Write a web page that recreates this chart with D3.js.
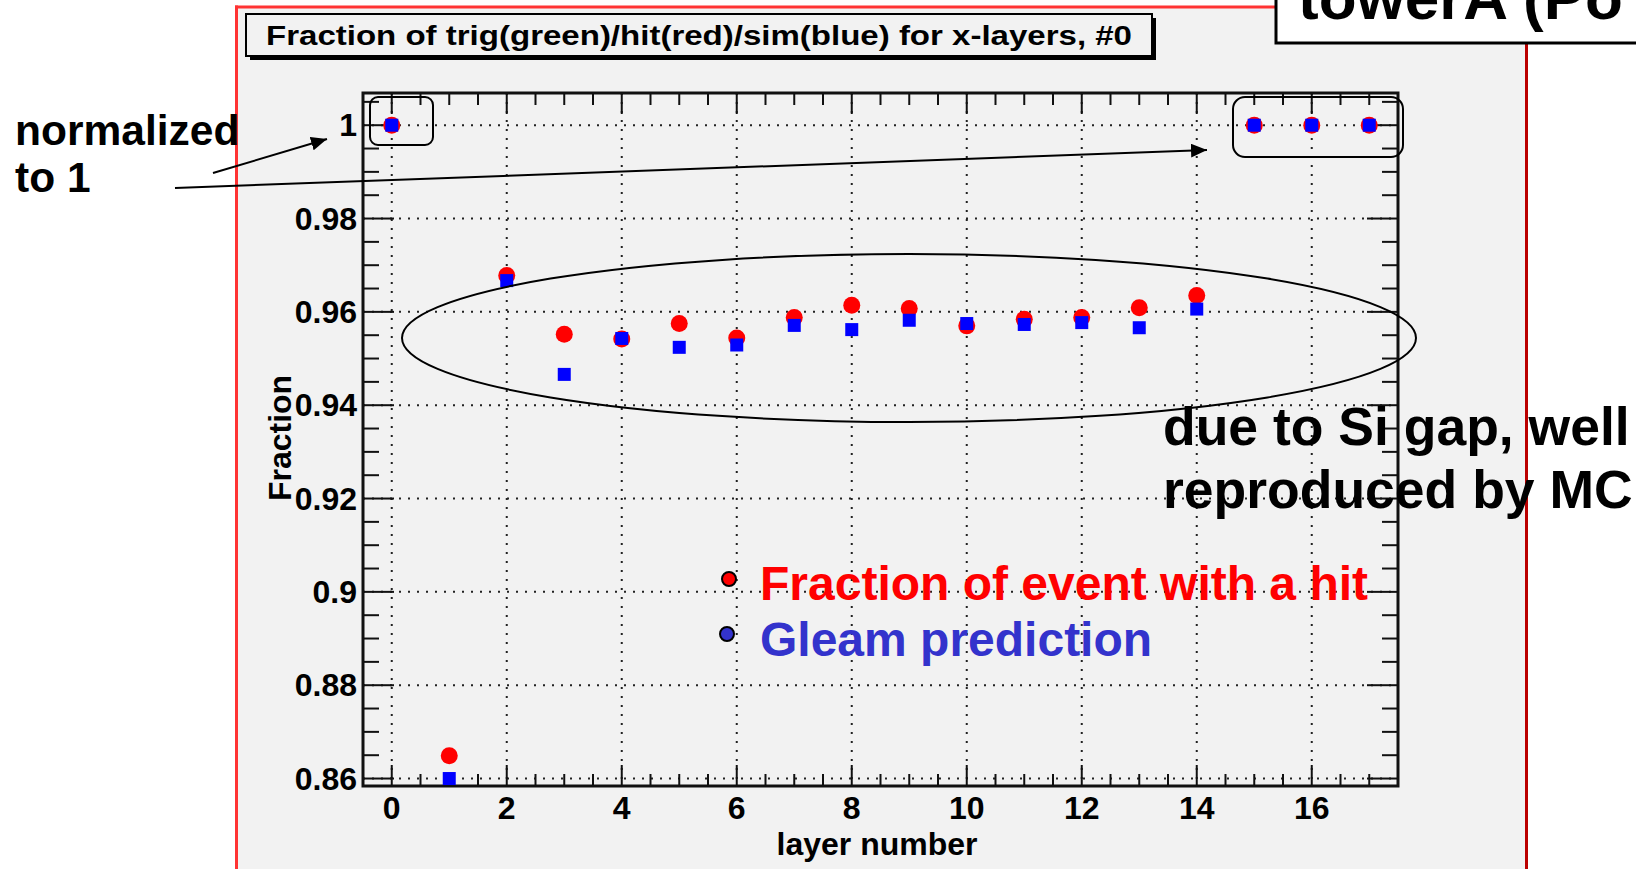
<!DOCTYPE html>
<html lang="en">
<head>
  <meta charset="UTF-8">
  <title>Fraction per x-layer, #0</title>
  <script src="https://d3js.org/d3.v7.min.js"></script>
  <style>
    html, body { margin:0; padding:0; background:#fff; overflow:hidden; }
    svg { display:block; font-family:"Liberation Sans", Arial, sans-serif; }
    .axis-lbl { font-weight:bold; font-size:32px; fill:#000; }
    .note { font-weight:bold; fill:#000; }
    .grid { stroke:#222; stroke-width:2; stroke-dasharray:2,7; fill:none; }
    .tick { stroke:#111; stroke-width:2; }
  </style>
</head>
<body>
  <svg id="chart" width="1636" height="869"></svg>
  <script>
    // values
    const layers  = [0, 1, 2, 3, 4, 5, 6, 7, 8, 9, 10, 11, 12, 13, 14, 15, 16, 17];
    const hitFrac = [1.0, 0.8649, 0.9678, 0.9552, 0.9542, 0.9575, 0.9544, 0.9588, 0.9614,
                     0.9607, 0.9570, 0.9584, 0.9588, 0.9609, 0.9635, 1.0, 1.0, 1.0];
    const simFrac = [1.0, 0.8600, 0.9667, 0.9466, 0.9543, 0.9524, 0.9529, 0.9571, 0.9562,
                     0.9582, 0.9575, 0.9573, 0.9577, 0.9566, 0.9606, 1.0, 1.0, 1.0];
    const xTicks = [0, 2, 4, 6, 8, 10, 12, 14, 16];
    const yTicks = [0.86, 0.88, 0.9, 0.92, 0.94, 0.96, 0.98, 1];
    const yTickLabels = ["0.86", "0.88", "0.9", "0.92", "0.94", "0.96", "0.98", "1"];

    const svg = d3.select("#chart");
    const frame = {left:363, right:1398, top:93, bottom:786};

    const x = d3.scaleLinear().domain([-0.5, 17.5]).range([frame.left, frame.right]);
    const y = d3.scaleLinear().domain([0.8584, 1.0069]).range([frame.bottom, frame.top]);

    // slide background: grey pad inside a red border
    svg.append("rect").attr("x",0).attr("y",0).attr("width",1636).attr("height",869).attr("fill","#fff");
    svg.append("rect").attr("x",238).attr("y",8).attr("width",1287).attr("height",861).attr("fill","#f2f2f2");
    svg.append("line").attr("x1",236.5).attr("x2",236.5).attr("y1",5.5).attr("y2",869)
      .attr("stroke","#ff3333").attr("stroke-width",3);
    svg.append("line").attr("x1",235).attr("x2",1280).attr("y1",7).attr("y2",7)
      .attr("stroke","#ff3333").attr("stroke-width",3);
    svg.append("line").attr("x1",1526.5).attr("x2",1526.5).attr("y1",7).attr("y2",869)
      .attr("stroke","#bb0000").attr("stroke-width",3);

    // title box with shadow
    svg.append("rect").attr("x",250).attr("y",18).attr("width",906).attr("height",42).attr("fill","#000");
    svg.append("rect").attr("x",246).attr("y",14).attr("width",906).attr("height",42)
      .attr("fill","#f2f2f2").attr("stroke","#000").attr("stroke-width",2);
    svg.append("text").attr("x",266).attr("y",45)
      .attr("font-size",28).attr("font-weight","bold")
      .attr("textLength",866).attr("lengthAdjust","spacingAndGlyphs")
      .text("Fraction of trig(green)/hit(red)/sim(blue) for x-layers, #0");

    // grid
    const g = svg.append("g");
    g.selectAll(".gx").data(xTicks).join("line").attr("class","grid")
      .attr("x1",d=>x(d)).attr("x2",d=>x(d)).attr("y1",frame.top).attr("y2",frame.bottom);
    g.selectAll(".gy").data(yTicks).join("line").attr("class","grid")
      .attr("x1",frame.left).attr("x2",frame.right).attr("y1",d=>y(d)).attr("y2",d=>y(d));

    // ticks on all four sides
    const xMinor = d3.range(-0.5, 17.51, 0.5);
    const yMinor = d3.range(0.86, 1.0069, 0.005).filter(v => v >= 0.8584);
    const isMajX = v => xTicks.some(t => Math.abs(t - v) < 1e-6);
    const isMajY = v => yTicks.some(t => Math.abs(t - v) < 1e-6);
    const tk = svg.append("g");
    xMinor.forEach(v => {
      const L = isMajX(v) ? 21 : 12;
      tk.append("line").attr("class","tick").attr("x1",x(v)).attr("x2",x(v))
        .attr("y1",frame.bottom).attr("y2",frame.bottom - L);
      tk.append("line").attr("class","tick").attr("x1",x(v)).attr("x2",x(v))
        .attr("y1",frame.top).attr("y2",frame.top + L);
    });
    yMinor.forEach(v => {
      const L = isMajY(+v.toFixed(3)) ? 31 : 16;
      tk.append("line").attr("class","tick").attr("y1",y(v)).attr("y2",y(v))
        .attr("x1",frame.left).attr("x2",frame.left + L);
      tk.append("line").attr("class","tick").attr("y1",y(v)).attr("y2",y(v))
        .attr("x1",frame.right).attr("x2",frame.right - L);
    });
    svg.append("rect").attr("x",frame.left).attr("y",frame.top)
      .attr("width",frame.right-frame.left).attr("height",frame.bottom-frame.top)
      .attr("fill","none").attr("stroke","#111").attr("stroke-width",3);

    // tick labels
    svg.selectAll(".xl").data(xTicks).join("text").attr("class","axis-lbl")
      .attr("x",d=>x(d)).attr("y",819).attr("font-size",31)
      .attr("text-anchor","middle").text(d=>d);
    svg.selectAll(".yl").data(yTicks).join("text").attr("class","axis-lbl")
      .attr("x",357).attr("y",d=>y(d)+11).attr("text-anchor","end")
      .text((d,i)=>yTickLabels[i]);

    svg.append("text").attr("class","axis-lbl").attr("x",877).attr("y",855)
      .attr("text-anchor","middle").attr("font-size",32).text("layer number");
    svg.append("text").attr("class","axis-lbl")
      .attr("transform","translate(291,438) rotate(-90)")
      .attr("text-anchor","middle").attr("font-size",33).text("Fraction");

    // data points: hit (red circles), sim (blue squares)
    svg.append("g").selectAll("circle").data(layers).join("circle")
      .attr("cx",d=>x(d)).attr("cy",(d,i)=>y(hitFrac[i])).attr("r",8.5).attr("fill","#ff0000");
    svg.append("g").selectAll("rect").data(layers).join("rect")
      .attr("x",d=>x(d)-6.5).attr("y",(d,i)=>y(simFrac[i])-6.5)
      .attr("width",13).attr("height",13).attr("fill","#0000ff");

    // annotations
    const ann = svg.append("g").attr("fill","none").attr("stroke","#000").attr("stroke-width",2);
    ann.append("rect").attr("x",370).attr("y",97).attr("width",63).attr("height",48).attr("rx",8);
    ann.append("rect").attr("x",1233).attr("y",97).attr("width",170).attr("height",60).attr("rx",12);
    ann.append("ellipse").attr("cx",909).attr("cy",338).attr("rx",507).attr("ry",84);

    svg.append("defs").append("marker").attr("id","arrow")
      .attr("viewBox","0 0 16 14").attr("refX",16).attr("refY",7)
      .attr("markerWidth",16).attr("markerHeight",14).attr("markerUnits","userSpaceOnUse")
      .attr("orient","auto")
      .append("path").attr("d","M0,0 L16,7 L0,14 Z").attr("fill","#000");
    ann.append("line").attr("x1",213).attr("y1",173).attr("x2",327).attr("y2",139)
      .attr("marker-end","url(#arrow)");
    ann.append("line").attr("x1",175).attr("y1",188).attr("x2",1207).attr("y2",150)
      .attr("marker-end","url(#arrow)");

    svg.append("text").attr("class","note").attr("x",15).attr("y",145).attr("font-size",42.5).text("normalized");
    svg.append("text").attr("class","note").attr("x",15).attr("y",192).attr("font-size",42.5).text("to 1");
    svg.append("text").attr("class","note").attr("x",1163).attr("y",445).attr("font-size",53.5).text("due to Si gap, well");
    svg.append("text").attr("class","note").attr("x",1163).attr("y",508).attr("font-size",53.5).text("reproduced by MC");

    // legend
    const legend = [
      {label:"Fraction of event with a hit", color:"#ff0000", cx:729, cy:579, ty:600},
      {label:"Gleam prediction", color:"#3333cc", cx:727, cy:634, ty:656}
    ];
    svg.append("g").selectAll("circle").data(legend).join("circle")
      .attr("cx",d=>d.cx).attr("cy",d=>d.cy).attr("r",7)
      .attr("fill",d=>d.color).attr("stroke","#000").attr("stroke-width",2);
    svg.append("g").selectAll("text").data(legend).join("text")
      .attr("x",760).attr("y",d=>d.ty).attr("font-size",48).attr("font-weight","bold")
      .attr("fill",d=>d.color).text(d=>d.label);

    // clipped slide heading in the top right corner
    svg.append("rect").attr("x",1276).attr("y",-10).attr("width",400).attr("height",53)
      .attr("fill","#fff").attr("stroke","#000").attr("stroke-width",3);
    svg.append("text").attr("class","note").attr("x",1298).attr("y",19)
      .attr("font-size",62).text("towerA (Po");
  </script>
</body>
</html>
